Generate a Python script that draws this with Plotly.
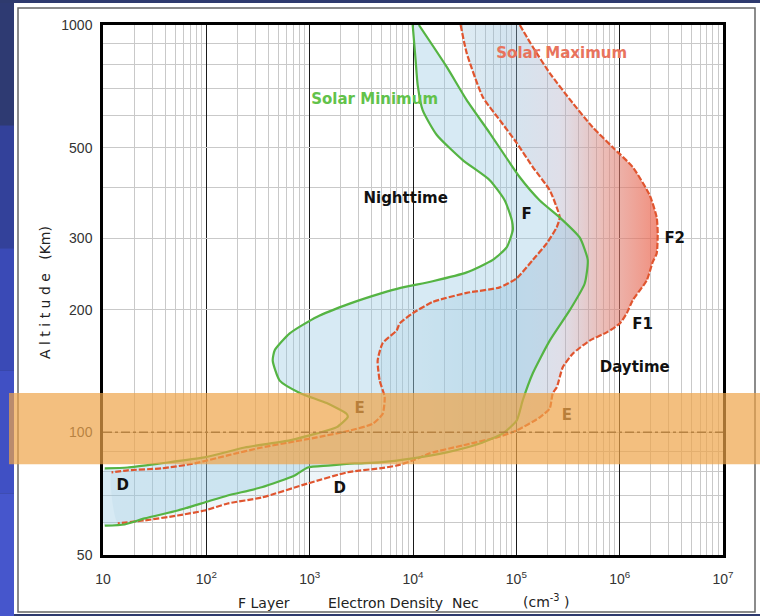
import math
import plotly.graph_objects as go

# ---------------- data ----------------
# Solar minimum, nighttime profile (electron density cm^-3, altitude km)
smin_night_ne = [9930, 10600, 11100, 12400, 17000, 30300, 55300, 77300, 90400, 92500,
                 80900, 59200, 33100, 15500, 7430, 5080, 2440, 1170, 641, 459, 439,
                 513, 801, 1460, 2280, 2335, 1830, 1170, 641, 235, 96, 37, 17.3, 10.4]
smin_night_alt = [1000, 820, 712, 618, 537, 466, 416, 371, 332, 314,
                  285, 265, 247, 235, 226, 220, 207, 192, 175, 159, 150,
                  134, 125, 118, 111, 109, 103, 99.4, 95.6, 91.8, 86.8, 84, 82, 81.6]

# Solar minimum, daytime profile
smin_day_ne = [11400, 21200, 33100, 55300, 108000, 168700, 263000, 410000, 491000, 459000,
               329000, 210500, 144300, 115400, 101000, 74000, 44300, 21200, 9930, 4760,
               2730, 1500, 958, 716, 343, 161, 96.4, 52.8, 25.3, 16.2, 10.4]
smin_day_alt = [1000, 789, 654, 543, 423, 371, 337, 301, 265, 232,
                199.5, 168, 139.7, 119.9, 107, 99.4, 93.9, 89.3, 86.3, 84.4,
                83.9, 82.9, 82, 78.4, 73.3, 70, 67.3, 64.3, 61.5, 59.4, 59]

# Solar maximum, nighttime profile
smax_night_ne = [28900, 33100, 47300, 69200, 101000, 144300, 210500, 251700, 263000, 246200,
                 196900, 144300, 101000, 69200, 33100, 15500, 9930, 7430, 6950, 5080,
                 4550, 4760, 5320, 5080, 4070, 2440, 1170, 716, 343, 161, 77, 37, 17.3, 12.1]
smax_night_alt = [1000, 853, 666, 584, 513, 448, 393, 351, 337, 319,
                  291, 265, 239, 227, 220, 209, 196, 185, 178, 165.5,
                  150, 134, 122, 111, 105, 101, 97.2, 95.0, 91.8, 87.8, 83.9, 81.6, 80.7, 79.8]

# Solar maximum, daytime profile
smax_day_ne = [108000, 144300, 210500, 351700, 548600, 857000, 1337000, 1954000, 2282000, 2335000,
               2282000, 2089000, 1827000, 1337000, 1170000, 1002000, 749500, 513000, 351700, 281400,
               246200, 225000, 210500, 168700, 101000, 64700, 30300, 14500, 9930, 6950,
               4760, 2335, 958, 343, 161, 96.4, 52.8, 25.3, 13.9]
smax_day_alt = [1000, 883, 762, 643, 561, 501, 448, 382, 337, 308,
                275, 262, 236, 211, 196, 185, 176, 168, 156, 144.5,
                129, 124.7, 114.5, 108.9, 101.1, 97.2, 92.9, 88.8, 85.3, 82.9,
                81.6, 79.8, 74.9, 69.2, 66.9, 64.3, 62.5, 60.8, 59.8]

# Region labels
label_text = ["Nighttime", "F", "F2", "F1", "Daytime", "D", "D"]
label_ne = [8490, 126000, 3410000, 1670000, 1400000, 15.5, 1955]
label_alt = [374, 341, 298, 183, 143.6, 73.6, 72.4]
e_label_text = ["E", "E"]
e_label_ne = [3050, 307600]
e_label_alt = [113.9, 109.4]
cycle_label_text = ["Solar Minimum", "Solar Maximum"]
cycle_label_ne = [4256, 274800]
cycle_label_alt = [654, 849]

x_tick_vals = [10, 100, 1000, 10000, 100000, 1000000, 10000000]
x_tick_text = ["10", "10<sup>2</sup>", "10<sup>3</sup>", "10<sup>4</sup>",
               "10<sup>5</sup>", "10<sup>6</sup>", "10<sup>7</sup>"]
x_minor_vals = [m * 10 ** d for d in range(1, 7) for m in range(2, 10)]
y_tick_vals = [50, 100, 200, 300, 500, 1000]
y_minor_vals = [60, 70, 80, 90, 400, 600, 700, 800, 900]

BAND_LOW, BAND_HIGH = 83.5, 125.0
E_REGION_REF = 100

# ---------------- layout helpers ----------------
W, H = 760, 616
L, R, T, B = 103, 37, 25, 61
PW, PH = W - L - R, H - T - B
Y_MIN, Y_MAX = math.log10(50), 3.0


def px(xp):
    return (xp - L) / PW


def py(yp):
    return (H - B - yp) / PH


def alt_paper(a):
    return (math.log10(a) - Y_MIN) / (Y_MAX - Y_MIN)


GREEN = "#55B443"
RED = "#E0552F"
SMOOTH = 0.55

fig = go.Figure()

# Solar maximum area (gradient fill)
fig.add_trace(go.Scatter(
    x=smax_night_ne + smax_day_ne[::-1], y=smax_night_alt + smax_day_alt[::-1],
    mode="lines", fill="toself", line=dict(width=0, shape="spline", smoothing=SMOOTH),
    fillgradient=dict(type="horizontal", colorscale=[
        [0.0, "rgba(150,195,215,0.15)"],
        [0.55, "rgba(150,195,215,0.18)"],
        [0.72, "rgba(140,185,215,0.38)"],
        [0.82, "rgba(175,175,200,0.40)"],
        [0.90, "rgba(220,135,125,0.55)"],
        [1.0, "rgba(235,95,70,0.70)"]]),
    hoverinfo="skip"))

# Solar minimum area
fig.add_trace(go.Scatter(
    x=smin_night_ne + smin_day_ne[::-1], y=smin_night_alt + smin_day_alt[::-1],
    mode="lines", fill="toself", fillcolor="rgba(150,200,225,0.38)",
    line=dict(width=0, shape="spline", smoothing=SMOOTH), hoverinfo="skip"))

# Profiles
for xs, ys, col, dash in [
    (smax_night_ne, smax_night_alt, RED, "6px,2px"),
    (smax_day_ne, smax_day_alt, RED, "6px,2px"),
    (smin_night_ne, smin_night_alt, GREEN, "solid"),
    (smin_day_ne, smin_day_alt, GREEN, "solid"),
]:
    fig.add_trace(go.Scatter(x=xs, y=ys, mode="lines",
                             line=dict(color=col, width=2.2, dash=dash, shape="spline", smoothing=SMOOTH),
                             hoverinfo="skip"))

LABEL_FONT = "DejaVu Sans, Arial, sans-serif"
fig.add_trace(go.Scatter(x=label_ne, y=label_alt, mode="text",
                         text=["<b>%s</b>" % t for t in label_text],
                         textfont=dict(family=LABEL_FONT, size=15, color="#111"),
                         hoverinfo="skip"))
fig.add_trace(go.Scatter(x=e_label_ne, y=e_label_alt, mode="text",
                         text=["<b>%s</b>" % t for t in e_label_text],
                         textfont=dict(family=LABEL_FONT, size=15, color="#3a2a1a"),
                         hoverinfo="skip"))
fig.add_trace(go.Scatter(x=cycle_label_ne, y=cycle_label_alt, mode="text",
                         text=["<b>%s</b>" % t for t in cycle_label_text],
                         textfont=dict(family=LABEL_FONT, size=15, color=["#62C24A", "#E8735C"]),
                         hoverinfo="skip"))

shapes = []
# white panel + frame
shapes.append(dict(type="rect", xref="paper", yref="paper", layer="below",
                   x0=px(14), x1=px(760), y0=py(614), y1=py(3),
                   fillcolor="white", line=dict(width=0)))
# left blue strip (vertical shading)
strip_cols = ["#2E3A72", "#33419A", "#3A4AB6", "#4050C4", "#4656CC"]
for i, c in enumerate(strip_cols):
    y_top = 3 + i * (613 / len(strip_cols))
    y_bot = 3 + (i + 1) * (613 / len(strip_cols))
    shapes.append(dict(type="rect", xref="paper", yref="paper", layer="below",
                       x0=px(0), x1=px(14), y0=py(y_bot), y1=py(y_top),
                       fillcolor=c, line=dict(width=0)))
shapes.append(dict(type="rect", xref="paper", yref="paper", layer="below",
                   x0=px(18), x1=px(755), y0=py(612), y1=py(8),
                   fillcolor="rgba(0,0,0,0)", line=dict(color="#666", width=1.5)))
# 100 km reference line
shapes.append(dict(type="line", xref="paper", yref="y", layer="above",
                   x0=0, x1=1, y0=E_REGION_REF, y1=E_REGION_REF,
                   line=dict(color="#333", width=1.5, dash="dashdot")))
# orange E-region band
shapes.append(dict(type="rect", xref="paper", yref="paper", layer="above",
                   x0=px(9), x1=px(760), y0=alt_paper(BAND_LOW), y1=alt_paper(BAND_HIGH),
                   fillcolor="rgba(238,164,72,0.70)", line=dict(width=0)))

TITLE_FONT = dict(family="DejaVu Sans, Arial, sans-serif", size=14, color="#222")
annotations = [
    dict(text="F Layer", xref="paper", yref="paper", x=px(264), y=py(603),
         showarrow=False, font=TITLE_FONT, xanchor="center", yanchor="middle"),
    dict(text="Electron Density\u00a0 Nec", xref="paper", yref="paper", x=px(403), y=py(603),
         showarrow=False, font=TITLE_FONT, xanchor="center", yanchor="middle"),
    dict(text="(cm<sup>-3</sup> )", xref="paper", yref="paper", x=px(546), y=py(601),
         showarrow=False, font=TITLE_FONT, xanchor="center", yanchor="middle"),
    dict(text="A l t i t u d e \u00a0 (Km)", xref="paper", yref="paper", x=px(45), y=py(293),
         showarrow=False, font=TITLE_FONT, textangle=-90, xanchor="center", yanchor="middle"),
]

TICK_FONT = dict(family="Liberation Sans, Arial, sans-serif", size=14, color="#333")
fig.update_layout(
    width=W, height=H,
    margin=dict(l=L, r=R, t=T, b=B, pad=0, autoexpand=False),
    paper_bgcolor="#2E3A6E", plot_bgcolor="white",
    showlegend=False,
    shapes=shapes, annotations=annotations,
    xaxis=dict(type="log", range=[1, 7], tickmode="array", tickvals=x_tick_vals, ticktext=x_tick_text,
               showgrid=True, gridcolor="#1a1a1a", gridwidth=1.3, zeroline=False,
               showline=True, linecolor="black", linewidth=2.5, mirror=True, ticks="",
               tickfont=TICK_FONT, ticklabelstandoff=9,
               minor=dict(tickmode="array", tickvals=x_minor_vals, showgrid=True,
                          gridcolor="#c9c9c9", gridwidth=1, ticks="")),
    yaxis=dict(type="log", range=[Y_MIN, Y_MAX], tickmode="array", tickvals=y_tick_vals,
               ticktext=[str(v) for v in y_tick_vals],
               showgrid=True, gridcolor="#c9c9c9", gridwidth=1, zeroline=False,
               showline=True, linecolor="black", linewidth=2.5, mirror=True, ticks="",
               tickfont=TICK_FONT, ticklabelstandoff=5,
               minor=dict(tickmode="array", tickvals=y_minor_vals, showgrid=True,
                          gridcolor="#c9c9c9", gridwidth=1, ticks="")),
)

fig.write_html("out.html", config={"displayModeBar": False},
               post_script="document.body.style.margin='0px';document.body.style.overflow='hidden';")
